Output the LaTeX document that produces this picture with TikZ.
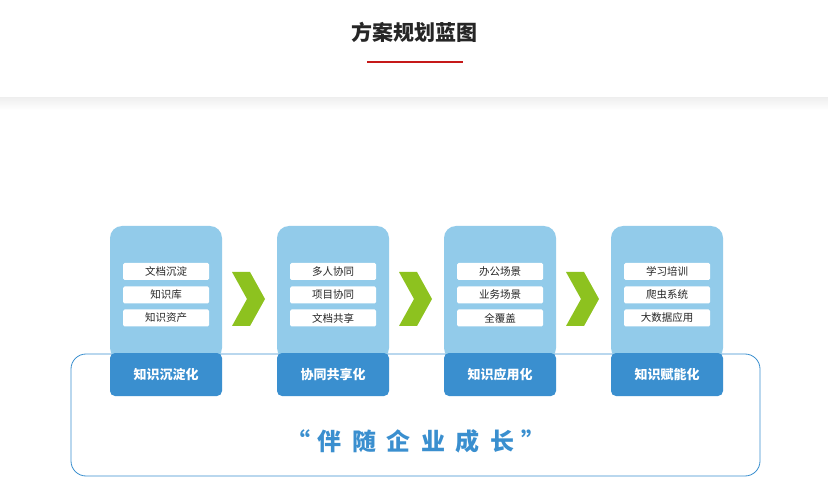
\documentclass[tikz,border=0pt]{standalone}
\usepackage{fontspec}
\newfontfamily\cjk{Noto Sans CJK SC}
\definecolor{lightb}{HTML}{92CBEA}
\definecolor{darkb}{HTML}{3A8FCF}
\definecolor{grn}{HTML}{8DC21F}
\tikzset{
 item/.style={fill=white,rounded corners=1.5pt,minimum width=86pt,minimum height=17pt,inner sep=0pt,font=\cjk\fontsize{10.5}{10.5}\selectfont,text=black!85},
 stage/.style={minimum width=112pt,minimum height=43pt,inner sep=0pt,font=\cjk\bfseries\fontsize{13}{13}\selectfont,text=white},
}
\begin{document}
\begin{tikzpicture}[x=1pt,y=-1pt]
\useasboundingbox (0,0) rectangle (828,497);
\fill[white] (0,0) rectangle (828,497);
\shade[top color=black!6,bottom color=white] (0,98) rectangle (828,110);
\node[font=\cjk\bfseries\fontsize{21}{21}\selectfont,text=black!85] (title) at (414,32) {方案规划蓝图};
\fill[red!75!black!90] (367,61) rectangle (463,63.5);
\draw[darkb,line width=0.8pt,rounded corners=15pt] (71,354) rectangle (760,476);
\node[font=\cjk\bfseries\fontsize{24}{24}\selectfont,text=darkb] (motto) at (416,441) {“\;伴\;\,随\;\,企\;\,业\;\,成\;\,长\;”};
\foreach \i/\x/\s/\a/\b/\c in {1/110/知识沉淀化/文档沉淀/知识库/知识资产,2/277/协同共享化/多人协同/项目协同/文档共享,3/444/知识应用化/办公场景/业务场景/全覆盖,4/611/知识赋能化/学习培训/爬虫系统/大数据应用}{
  \fill[lightb,rounded corners=12pt] (\x,226) rectangle (\x+112,360);
  \fill[darkb,rounded corners=5pt] (\x,353) rectangle (\x+112,396);
  \node[stage] (s\i) at (\x+56,375) {\s};
  \node[item] (a\i) at (\x+56,271.5) {\a};
  \node[item] (b\i) at (\x+56,295) {\b};
  \node[item] (c\i) at (\x+56,318) {\c};
}
\foreach \x in {232,399,566}{
  \fill[grn] (\x,272) -- (\x+18,272) -- (\x+33,299) -- (\x+18,326) -- (\x,326) -- (\x+15,299) -- cycle;
}
\end{tikzpicture}
\end{document}
